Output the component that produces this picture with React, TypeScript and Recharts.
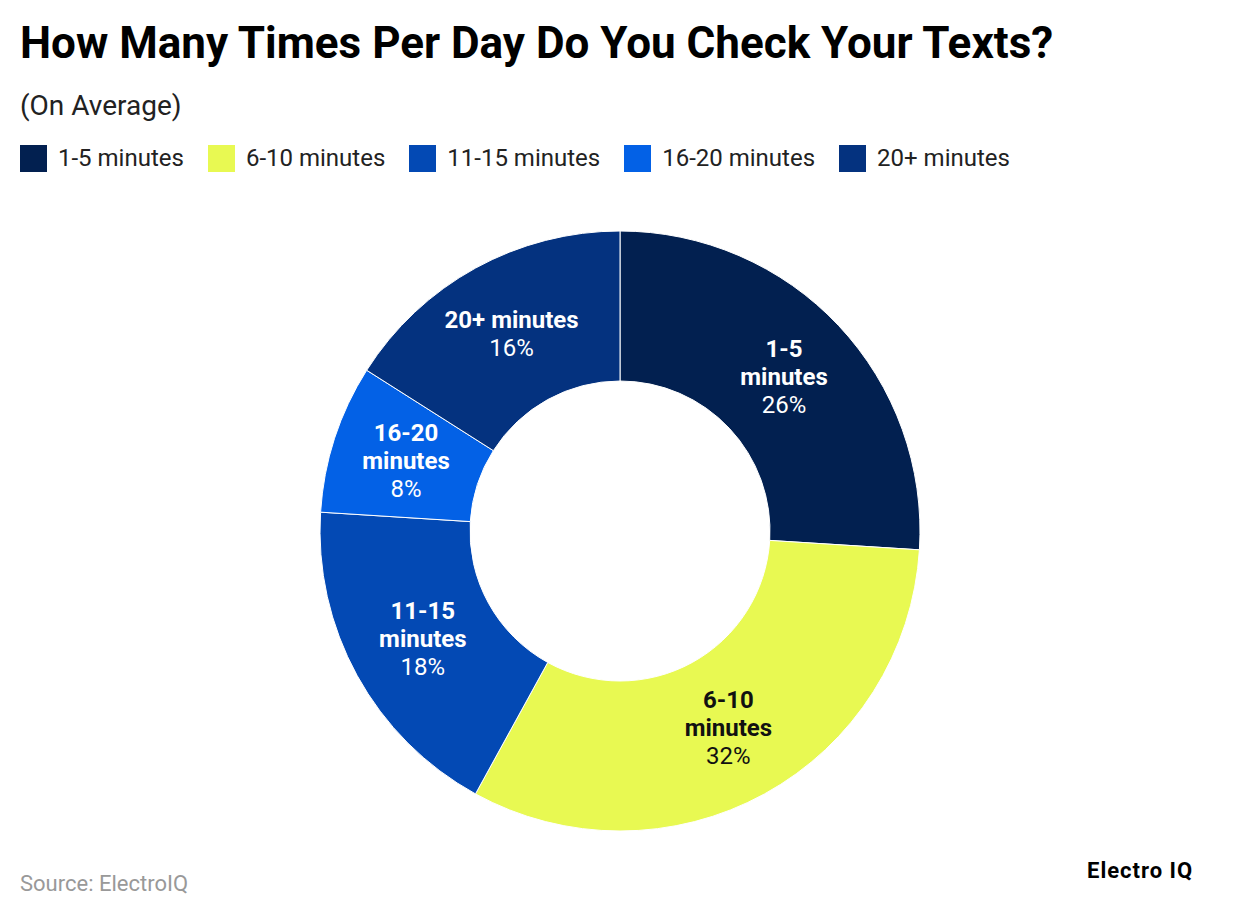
import { PieChart, Pie, Cell } from 'recharts';

// Texts-per-day donut, ElectroIQ style

const categories = ['1-5 minutes', '6-10 minutes', '11-15 minutes', '16-20 minutes', '20+ minutes'];
const shares = [26, 32, 18, 8, 16];
const colors = ['#022050', '#E8F952', '#0349B4', '#0361E6', '#04327F'];
const labelColors = ['#FFFFFF', '#111111', '#FFFFFF', '#FFFFFF', '#FFFFFF'];

// labels that fit on a single line inside their slice
const oneLine = new Set(['20+ minutes']);

const data = categories.map((name, i) => ({ name, value: shares[i] }));

const RAD = Math.PI / 180;
const FONT = 'Roboto, "Noto Sans", sans-serif';

function SliceLabel(props: any) {
  const { cx, cy, midAngle, innerRadius, outerRadius, index, name, value } = props;
  const r = (innerRadius + outerRadius) / 2;
  const x = cx + r * Math.cos(-midAngle * RAD);
  const y = cy + r * Math.sin(-midAngle * RAD);
  const head = oneLine.has(name) ? [name] : name.split(' ');
  const lines = [...head, `${value}%`];
  const lh = 28;
  const top = y - ((lines.length - 1) * lh) / 2;
  return (
    <text
      x={x}
      y={top}
      textAnchor="middle"
      dominantBaseline="central"
      fill={labelColors[index]}
      fontFamily={FONT}
      fontSize={24}
    >
      {lines.map((l, i) => (
        <tspan key={i} x={x} dy={i === 0 ? 0 : lh} fontWeight={i < lines.length - 1 ? 700 : 400}>
          {l}
        </tspan>
      ))}
    </text>
  );
}

export default function App() {
  return (
    <div style={{ position: 'relative', width: 1240, height: 918, background: '#fff', fontFamily: FONT, overflow: 'hidden' }}>
      <style>{'body{margin:0}'}</style>
      <div style={{ position: 'absolute', left: 20, top: 17, fontSize: 44, fontWeight: 700, color: '#000', whiteSpace: 'nowrap' }}>
        How Many Times Per Day Do You Check Your Texts?
      </div>
      <div style={{ position: 'absolute', left: 20, top: 89, fontSize: 28, color: '#222' }}>(On Average)</div>

      <div style={{ position: 'absolute', left: 20, top: 144, display: 'flex', alignItems: 'center' }}>
        {categories.map((c, i) => (
          <div key={c} style={{ display: 'flex', alignItems: 'center', marginRight: 24 }}>
            <div style={{ width: 27, height: 27, background: colors[i], marginRight: 11 }} />
            <span style={{ fontSize: 24, color: '#222' }}>{c}</span>
          </div>
        ))}
      </div>

      <div style={{ position: 'absolute', left: 0, top: 0 }}>
        <PieChart width={1240} height={918} margin={{ top: 0, right: 0, bottom: 0, left: 0 }}>
          <Pie
            data={data}
            dataKey="value"
            nameKey="name"
            cx={620}
            cy={531}
            innerRadius={150}
            outerRadius={300}
            startAngle={90}
            endAngle={-270}
            stroke="#FFFFFF"
            strokeWidth={1}
            label={SliceLabel}
            labelLine={false}
            isAnimationActive={false}
          >
            {data.map((d, i) => (
              <Cell key={d.name} fill={colors[i]} />
            ))}
          </Pie>
        </PieChart>
      </div>

      <div style={{ position: 'absolute', left: 20, top: 871, fontSize: 22, color: '#999' }}>Source: ElectroIQ</div>
      <div style={{ position: 'absolute', left: 1087, top: 858, fontSize: 22, fontWeight: 700, color: '#000', letterSpacing: 1 }}>Electro IQ</div>
    </div>
  );
}
